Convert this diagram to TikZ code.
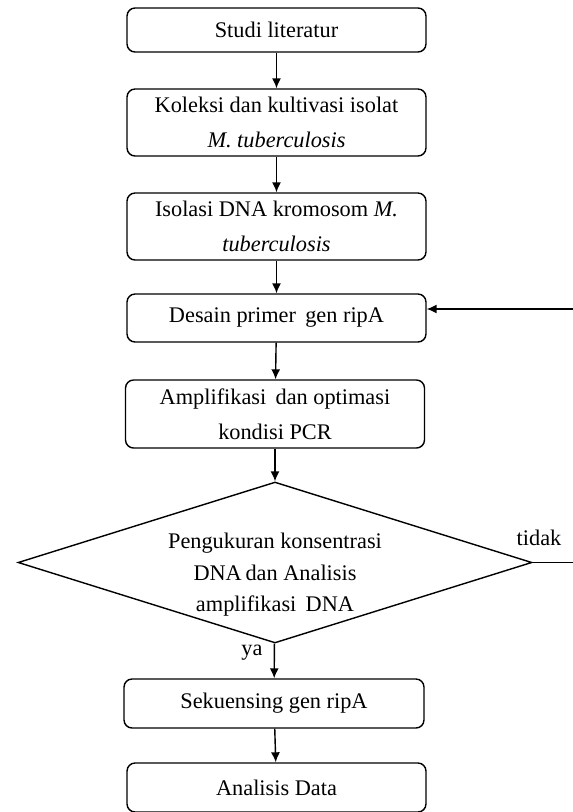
\documentclass[tikz,border=0pt]{standalone}
\usepackage{fontspec}
\setmainfont{Liberation Serif}
\usetikzlibrary{shapes,arrows.meta,positioning}

\begin{document}
\begin{tikzpicture}[x=0.02cm, y=-0.02cm,
        box/.style={rectangle, draw, rounded corners=0.16cm, line width=0.8pt, minimum width=5.98cm, text centered, align=center, font=\fontsize{12.7}{20}\selectfont},
        dec/.style={diamond, draw, line width=0.8pt, inner sep=0pt, minimum width=10.28cm, minimum height=3.22cm},
        flow/.style={-{Latex[length=0.2cm, width=0.18cm]}, line width=0.8pt},
        lbl/.style={font=\fontsize{12.7}{15}\selectfont},
    ]
        \useasboundingbox (0,0) rectangle (572,812);
        % main column
        \node[box, minimum height=0.88cm] (studi) at (276.5, 30) {Studi literatur};
        \node[box, minimum height=1.34cm] (koleksi) at (276.5, 122.5) {Koleksi dan kultivasi isolat\\\textit{M. tuberculosis}};
        \node[box, minimum height=1.34cm] (isolasi) at (276.5, 226.5) {Isolasi DNA kromosom \textit{M.}\\\textit{tuberculosis}};
        \node[box, minimum height=0.96cm] (desain) at (276.5, 318) {Desain primer\, gen ripA};
        \node[box, minimum height=1.36cm] (amplif) at (275, 414) {Amplifikasi\, dan optimasi\\kondisi PCR};
        \node[dec] (cek) at (275, 562.5) {};
        \node[font=\fontsize{12.7}{18}\selectfont, align=center] (cektxt) at (275, 575) {Pengukuran konsentrasi\\DNA\,dan Analisis\\amplifikasi\, DNA};
        \node[box, minimum height=0.98cm, minimum width=6cm] (sekuen) at (274, 703.5) {Sekuensing gen ripA};
        \node[box, minimum height=0.98cm] (analisis) at (276.5, 787.5) {Analisis Data};

        % arrows
        \draw[flow] (studi) -- (koleksi);
        \draw[flow] (koleksi) -- (isolasi);
        \draw[flow] (isolasi) -- (desain);
        \draw[flow] (desain) -- (amplif);
        \draw[flow] (amplif) -- (cek);
        \draw[flow] (cek) -- (sekuen);
        \draw[flow] (sekuen) -- (analisis);

        % back loop
        \coordinate (turn) at (580, 562.5);
        \draw[flow] (cek.east) -- (turn) |- ([yshift=0.18cm]desain.east);
        \node[lbl] (tidak) at (539, 538) {tidak};
        \node[lbl] (ya) at (252, 653) {ya};
    \end{tikzpicture}
\end{document}
